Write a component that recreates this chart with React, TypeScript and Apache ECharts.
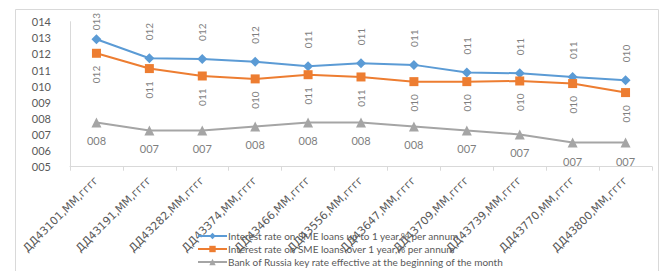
import React, { useEffect, useRef } from "react";
import * as echarts from "echarts";

const categories = [
  "ДД43101,ММ,гггг",
  "ДД43191,ММ,гггг",
  "ДД43282,ММ,гггг",
  "ДД43374,ММ,гггг",
  "ДД43466,ММ,гггг",
  "ДД43556,ММ,гггг",
  "ДД43647,ММ,гггг",
  "ДД43709,ММ,гггг",
  "ДД43739,ММ,гггг",
  "ДД43770,ММ,гггг",
  "ДД43800,ММ,гггг",
];

const upTo1Year = [12.91, 11.73, 11.69, 11.52, 11.24, 11.42, 11.32, 10.84, 10.8, 10.57, 10.37];
const over1Year = [12.04, 11.09, 10.63, 10.45, 10.71, 10.57, 10.28, 10.28, 10.32, 10.16, 9.6];
const keyRate = [7.75, 7.25, 7.25, 7.5, 7.75, 7.75, 7.5, 7.25, 7.0, 6.5, 6.5];

const seriesNames = [
  "Interest rate on SME loans up to 1 year,% per annum",
  "Interest rate on SME loans over 1 year,% per annum",
  "Bank of Russia key rate effective at the beginning of the month",
];

const fmt = (v: number) => String(Math.round(v)).padStart(3, "0");
const FONT = "Lato";
const TXT = "#595959";

export default function App() {
  const ref = useRef<HTMLDivElement>(null);
  useEffect(() => {
    document.body.style.margin = "0";
    const chart = echarts.init(ref.current!, null, { renderer: "svg" });
    const labelCommon = {
      show: true,
      color: "#7f7f7f",
      fontSize: 10,
      fontFamily: FONT,
      formatter: (p: any) => fmt(p.value),
    };
    chart.setOption({
      animation: false,
      backgroundColor: "#ffffff",
      textStyle: { fontFamily: FONT },
      graphic: [
        {
          type: "rect",
          shape: { x: 15.5, y: 9.5, width: 643, height: 280 },
          style: { fill: "none", stroke: "#d9d9d9", lineWidth: 1 },
          silent: true,
          z: -10,
        },
      ],
      grid: { left: 70, right: 12, top: 21.7, bottom: 104.3 },
      legend: {
        orient: "vertical",
        left: 197,
        top: 230,
        height: 45,
        padding: 0,
        itemWidth: 29,
        itemHeight: 8,
        itemGap: 1,
        textStyle: { color: TXT, fontSize: 10, fontFamily: FONT, lineHeight: 12, padding: [0, 0, 0, -4] },
        data: seriesNames,
      },
      xAxis: {
        type: "category",
        data: categories,
        boundaryGap: true,
        axisLine: { lineStyle: { color: "#d9d9d9" } },
        axisTick: { show: true, length: 4, lineStyle: { color: "#d9d9d9" } },
        axisLabel: {
          interval: 0,
          rotate: 45,
          color: TXT,
          fontSize: 11,
          fontFamily: "DejaVu Sans",
          margin: 12,
        },
      },
      yAxis: {
        type: "value",
        min: 5,
        max: 14,
        interval: 1,
        splitLine: { show: false },
        axisLine: { show: true, lineStyle: { color: "#d9d9d9" } },
        axisTick: { show: false },
        axisLabel: {
          color: TXT,
          fontSize: 11,
          fontFamily: FONT,
          margin: 19,
          formatter: (v: number) => fmt(v),
        },
      },
      series: [
        {
          name: seriesNames[0],
          type: "line",
          data: upTo1Year.map((v, i) => (i === 0 ? { value: v, label: { distance: 4 } } : v)),
          color: "#5B9BD5",
          symbol: "diamond",
          symbolSize: 10,
          lineStyle: { width: 2 },
          label: {
            ...labelCommon,
            position: "top",
            rotate: 90,
            align: "left",
            verticalAlign: "middle",
            distance: 13,
          },
        },
        {
          name: seriesNames[1],
          type: "line",
          data: over1Year,
          color: "#ED7D31",
          symbol: "rect",
          symbolSize: 9,
          lineStyle: { width: 2 },
          label: {
            ...labelCommon,
            position: "bottom",
            rotate: 90,
            align: "right",
            verticalAlign: "middle",
            distance: 8,
          },
        },
        {
          name: seriesNames[2],
          type: "line",
          data: keyRate,
          color: "#A5A5A5",
          symbol: "triangle",
          symbolSize: 10,
          lineStyle: { width: 2 },
          label: {
            ...labelCommon,
            position: "bottom",
            distance: 8,
            fontSize: 11,
          },
        },
      ],
    });
    return () => chart.dispose();
  }, []);
  return <div ref={ref} style={{ width: 664, height: 271 }} />;
}
